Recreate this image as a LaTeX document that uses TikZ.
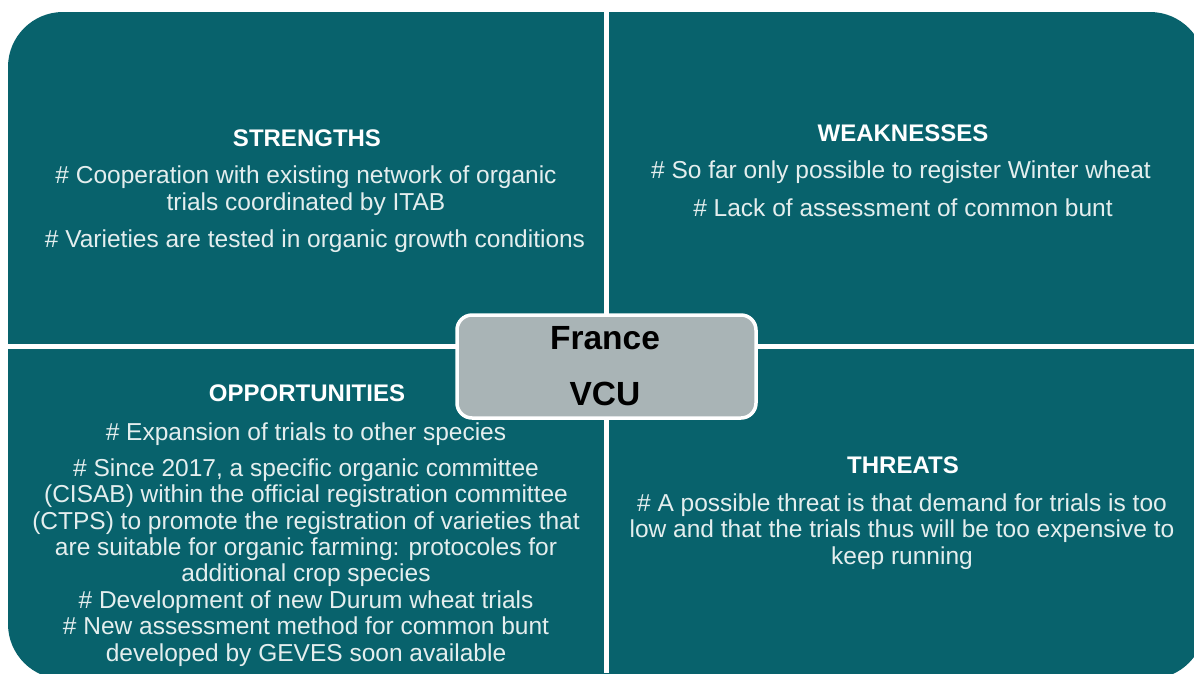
\documentclass[tikz,border=0pt]{standalone}
\usepackage{fontspec}
\setmainfont{Liberation Sans}
\definecolor{teal1}{HTML}{08626C}
\definecolor{boxgray}{HTML}{A9B4B6}
\definecolor{txt}{HTML}{E4EEEE}
\tikzset{
  title/.style={text=white,font=\fontsize{24}{26}\selectfont\bfseries,anchor=base},
  body/.style={text=txt,font=\fontsize{24.5}{26.4}\selectfont,align=center,anchor=base},
  centerbox/.style={draw=white,line width=3.5pt,fill=boxgray,rounded corners=15pt,minimum width=299pt,minimum height=103pt},
}
\begin{document}
\begin{tikzpicture}[x=1pt,y=-1pt]
\useasboundingbox (0,0) rectangle (1194,673);
\fill[white] (0,0) rectangle (1194,673);
\clip (0,0) rectangle (1194,673);
\fill[teal1,rounded corners=55pt] (8,12) rectangle (1205,679);
\fill[white] (603.5,0) rectangle (608.5,673);
\fill[white] (0,343.5) rectangle (1194,348.5);
\node[centerbox] (c) at (606.5,366.5) {};
\node[font=\fontsize{33.5}{36}\selectfont\bfseries,anchor=base] (fr) at (605,349) {France};
\node[font=\fontsize{33.5}{36}\selectfont\bfseries,anchor=base] (vcu) at (605,405) {VCU};
% strengths (base anchor = last line baseline)
\node[title] (st) at (307,146) {STRENGTHS};
\node[body] (s1) at (306,210) {\# Cooperation  with existing network of organic\\trials coordinated  by ITAB};
\node[body] (s2) at (315,247) {\# Varieties are tested in organic  growth  conditions};
% weaknesses
\node[title] (wt) at (903,141) {WEAKNESSES};
\node[body] (w1) at (901,178) {\# So far only possible to register Winter wheat};
\node[body] (w2) at (903,216) {\# Lack of assessment of common bunt};
% opportunities
\node[title] (ot) at (307,401) {OPPORTUNITIES};
\node[body] (o1) at (306,440) {\# Expansion  of trials to other species};
\node[body] (o2) at (306,661) {\# Since 2017, a specific organic committee\\(CISAB) within the official registration  committee\\(CTPS) to promote  the registration of varieties  that\\are suitable for organic farming:  protocoles for\\additional  crop species\\\# Development  of new Durum  wheat trials\\\# New assessment method for common bunt\\developed  by GEVES soon available};
% threats
\node[title] (tt) at (903,473) {THREATS};
\node[body] (t1) at (902,564) {\# A possible threat is that demand for trials is too\\low and that the trials thus will be too expensive to\\keep running};
\end{tikzpicture}
\end{document}
